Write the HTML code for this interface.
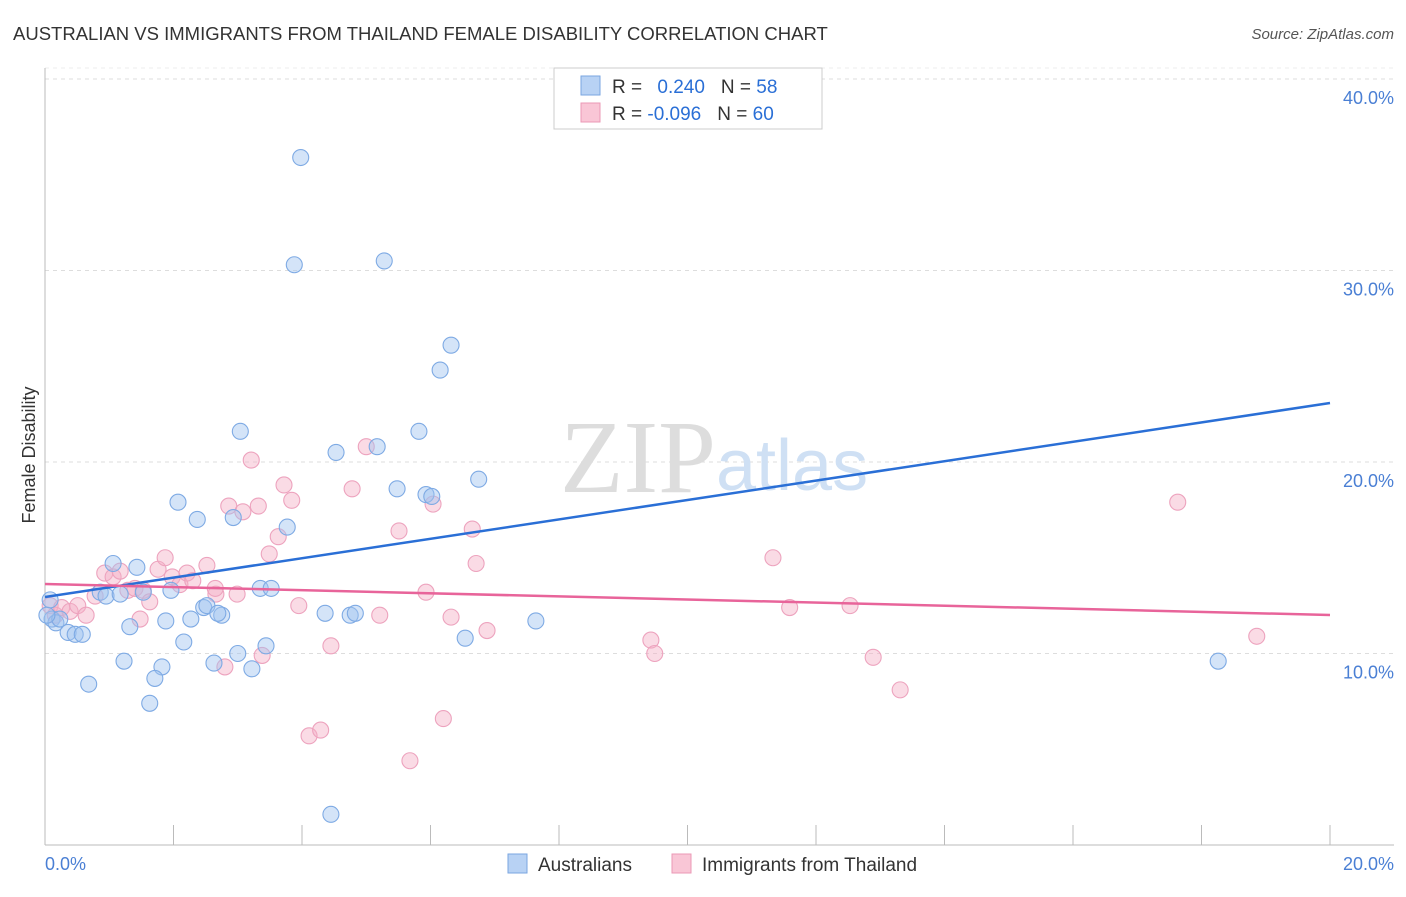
<!DOCTYPE html>
<html><head><meta charset="utf-8"><style>
body{margin:0;background:#fff;font-family:"Liberation Sans",sans-serif;}
</style></head><body>
<svg width="1406" height="892" xmlns="http://www.w3.org/2000/svg">
<text x="13" y="40" font-size="18.5" fill="#333">AUSTRALIAN VS IMMIGRANTS FROM THAILAND FEMALE DISABILITY CORRELATION CHART</text>
<text x="1394" y="39" font-size="15" fill="#555" font-style="italic" text-anchor="end">Source: ZipAtlas.com</text>
<g id="grid"></g>
<text x="716" y="492" font-size="104" fill="#ddd" text-anchor="end" font-family="Liberation Serif">ZIP</text>
<text x="716" y="490" font-size="72" fill="#cfe0f4">atlas</text>
<g id="pts"></g>
<g id="lines"></g>
<text x="35" y="455" font-size="18" fill="#333" text-anchor="middle" transform="rotate(-90 35 455)">Female Disability</text>
<text x="45" y="870" font-size="18" fill="#4a7fd4">0.0%</text>
<text x="1394" y="870" font-size="18" fill="#4a7fd4" text-anchor="end">20.0%</text>
<g>
<rect x="554" y="68" width="268" height="61" fill="#fff" stroke="#ccc"/>
<rect x="581" y="76" width="19" height="19" fill="#b8d2f4" stroke="#7aa6e0"/>
<rect x="581" y="103" width="19" height="19" fill="#f9c6d6" stroke="#eb98b6"/>
<text x="612" y="93" font-size="19" fill="#333">R = <tspan fill="#2a6fd6" dx="10">0.240</tspan><tspan dx="16" fill="#333">N = </tspan><tspan fill="#2a6fd6">58</tspan></text>
<text x="612" y="120" font-size="19" fill="#333">R = <tspan fill="#2a6fd6">-0.096</tspan><tspan dx="16" fill="#333">N = </tspan><tspan fill="#2a6fd6">60</tspan></text>
</g>
<g>
<rect x="508" y="854" width="19" height="19" fill="#b8d2f4" stroke="#7aa6e0"/>
<text x="538" y="871" font-size="19" fill="#333">Australians</text>
<rect x="672" y="854" width="19" height="19" fill="#f9c6d6" stroke="#eb98b6"/>
<text x="702" y="871" font-size="19" fill="#333">Immigrants from Thailand</text>
</g>
</svg>
<script>
const yTicks=[10,20,30,40];
const yTickLabels=["10.0%","20.0%","30.0%","40.0%"];
const blueX=[3.98,3.88,5.28,6.32,6.15,3.04,5.82,4.53,5.17,6.75,5.48,5.93,6.02,2.07,2.37,2.93,3.77,1.06,1.43,0.86,0.95,1.17,1.53,1.96,3.35,3.52,2.47,2.52,2.75,2.69,2.27,1.88,1.32,0.11,0.17,0.23,0.36,0.47,0.58,2.16,3.44,3.0,4.36,4.75,4.83,6.54,7.64,1.23,1.82,2.63,3.22,1.71,0.68,1.63,4.45,18.26,0.03,0.08];
const blueY=[35.9,30.3,30.5,26.1,24.8,21.6,21.6,20.5,20.8,19.1,18.6,18.3,18.2,17.9,17.0,17.1,16.6,14.7,14.5,13.2,13.0,13.1,13.2,13.3,13.4,13.4,12.4,12.5,12.0,12.1,11.8,11.7,11.4,11.8,11.6,11.8,11.1,11.0,11.0,10.6,10.4,10.0,12.1,12.0,12.1,10.8,11.7,9.6,9.3,9.5,9.2,8.7,8.4,7.4,1.6,9.6,12.0,12.8];
const pinkX=[0.08,0.16,0.26,0.39,0.51,0.64,0.78,0.93,1.06,1.17,1.29,1.4,1.53,1.63,1.76,1.87,1.98,2.1,2.21,2.3,2.52,2.66,2.8,2.86,2.99,3.08,3.21,3.32,3.38,3.49,3.63,3.72,3.84,3.95,4.11,4.29,4.45,4.78,5.0,5.21,5.51,5.68,5.93,6.04,6.2,6.32,6.65,6.71,6.88,9.43,9.49,11.33,11.59,12.53,12.89,13.31,17.63,18.86,2.65,1.48];
const pinkY=[12.5,12.0,12.4,12.2,12.5,12.0,13.0,14.2,14.0,14.3,13.3,13.4,13.3,12.7,14.4,15.0,14.0,13.6,14.2,13.8,14.6,13.1,9.3,17.7,13.1,17.4,20.1,17.7,9.9,15.2,16.1,18.8,18.0,12.5,5.7,6.0,10.4,18.6,20.8,12.0,16.4,4.4,13.2,17.8,6.6,11.9,16.5,14.7,11.2,10.7,10.0,15.0,12.4,12.5,9.8,8.1,17.9,10.9,13.4,11.8];
const blueLine=[12.95,23.08], pinkLine=[13.63,12.01];
const NS="http://www.w3.org/2000/svg";
const X=v=>45+v*64.25, Y=v=>845-v*19.15;
function mk(t,a,p){const e=document.createElementNS(NS,t);for(const k in a)e.setAttribute(k,a[k]);p.appendChild(e);return e;}
const g=document.getElementById('grid');
yTicks.forEach((t,i)=>{
 const l=mk('line',{x1:45,x2:1394,y1:Y(t),y2:Y(t),stroke:'#ddd','stroke-dasharray':'4,4'},g);
 
 
 const tx=mk('text',{x:1394,y:Y(t)+25,'font-size':18,fill:'#4a7fd4','text-anchor':'end'},g);
 tx.textContent=yTickLabels[i];
 
 
});
mk('line',{x1:45,x2:1394,y1:68,y2:68,stroke:'#eee','stroke-dasharray':'4,4'},g);
const ax=mk('line',{x1:45,x2:45,y1:68,y2:845,stroke:'#bbb'},g);


const bx=mk('line',{x1:45,x2:1394,y1:845,y2:845,stroke:'#bbb'},g);


for(let i=0;i<=10;i++){const t=mk('line',{x1:X(i*2),x2:X(i*2),y1:825,y2:845,stroke:'#bbb'},g);
 
 }
const p=document.getElementById('pts');
pinkX.forEach((x,i)=>{const c=mk('circle',{cx:X(x),cy:Y(pinkY[i]),r:8,fill:'rgba(245,175,198,0.45)',stroke:'#eda3be','stroke-width':1.1},p);
 
 });
blueX.forEach((x,i)=>{const c=mk('circle',{cx:X(x),cy:Y(blueY[i]),r:8,fill:'rgba(160,196,240,0.45)',stroke:'#7eaae4','stroke-width':1.1},p);
 
 });
const L=document.getElementById('lines');
const b=mk('line',{x1:X(0),y1:Y(blueLine[0]),x2:X(20),y2:Y(blueLine[1]),stroke:'#2a6fd6','stroke-width':2.5},L);


const pl=mk('line',{x1:X(0),y1:Y(pinkLine[0]),x2:X(20),y2:Y(pinkLine[1]),stroke:'#e8649a','stroke-width':2.5},L);


</script>
</body></html>
